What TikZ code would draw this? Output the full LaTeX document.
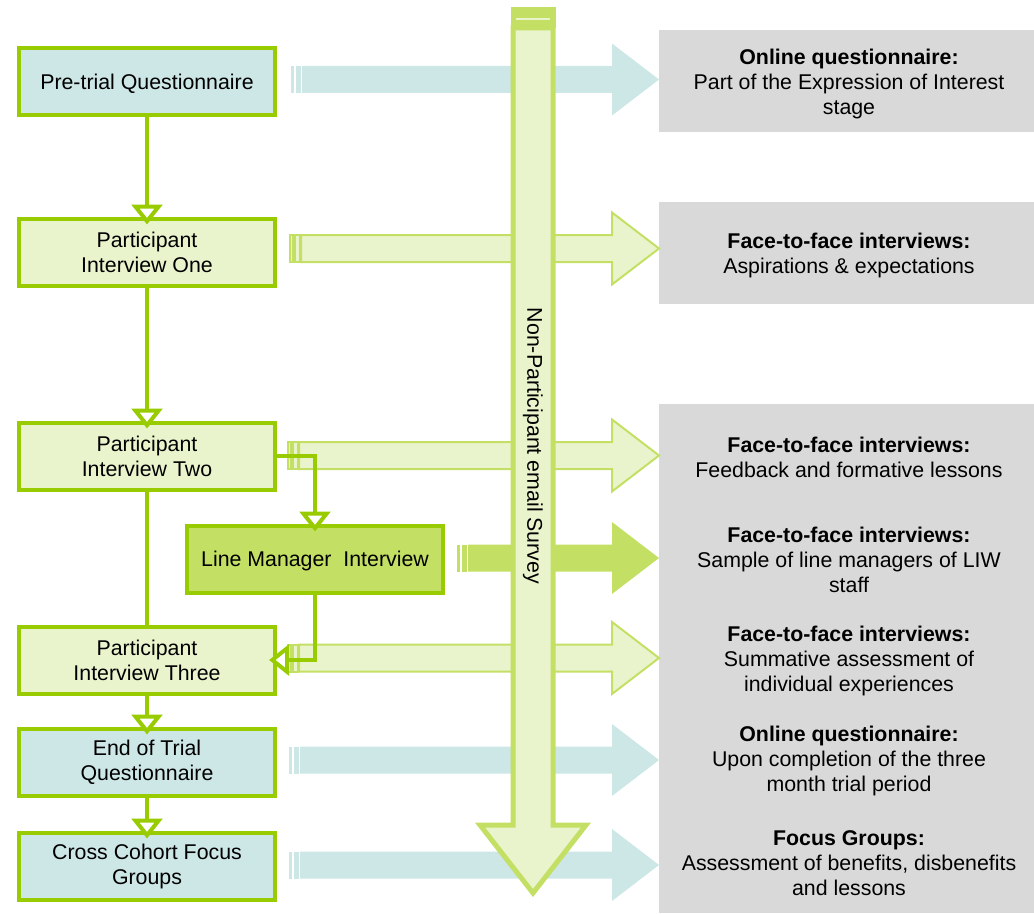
\documentclass[tikz,border=0pt]{standalone}
\usepackage{fontspec}
\setmainfont{Liberation Sans}
\usetikzlibrary{arrows.meta}
\definecolor{lime}{RGB}{153,204,0}
\definecolor{paleteal}{RGB}{205,230,230}
\definecolor{palelime}{RGB}{234,244,204}
\definecolor{midlime}{RGB}{196,224,100}
\definecolor{panelgrey}{RGB}{217,217,217}

% wide band arrow: #1 style, #2 tail x, #3 centre y
\newcommand\band[3]{%
  \path[#1] (#2,#3-13.5) rectangle (#2+3,#3+13.5);
  \path[#1] (#2+4.5,#3-13.5) rectangle (#2+9.5,#3+13.5);
  \path[#1] (#2+11,#3-13.5) -- (612,#3-13.5) -- (612,#3-36) -- (659,#3)
    -- (612,#3+36) -- (612,#3+13.5) -- (#2+11,#3+13.5) -- cycle;}

\begin{document}
\begin{tikzpicture}[x=0.75pt, y=-0.75pt,
  every node/.style={font=\fontsize{16}{18.75}\selectfont, align=center},
  stage/.style={draw=lime, line width=3pt, minimum width=192pt, minimum height=50.25pt, inner sep=0pt},
  link/.style={draw=lime, line width=3pt, -{Triangle[width=23pt,length=15pt,fill=white]}, shorten >=-6pt},
  tealband/.style={fill=paleteal},
  limeband/.style={fill=palelime, draw=midlime, line width=1.5pt},
  solidband/.style={fill=midlime},
  panel/.style={fill=panelgrey, minimum width=281.25pt, inner sep=0pt}]
\useasboundingbox (0,0) rectangle (1034,913);

% grey panels on the right
\node[panel, minimum height=76.5pt] (p1) at (846.5,81) {};
\node[panel, minimum height=76.5pt] (p2) at (846.5,253) {};
\node[panel, minimum height=381.75pt] (p3) at (846.5,658.5) {};

% wide arrows towards the panels
\band{tealband}{291}{79.5}
\band{limeband}{290}{248.5}
\band{limeband}{288}{455.5}
\band{solidband}{457}{558}
\band{limeband}{288}{658}
\band{tealband}{289}{760}
\band{tealband}{289}{865}

% stages
\node[stage, fill=paleteal, text depth=0pt] (pre) at (147,81.5) {Pre-trial Questionnaire};
\node[stage, fill=palelime] (one) at (147,252) {Participant\\Interview One};
\node[stage, fill=palelime] (two) at (147,456) {Participant\\Interview Two};
\node[stage, fill=midlime, text depth=0pt] (lm) at (315,559) {Line Manager\ \ Interview};
\node[stage, fill=palelime] (three) at (147,660) {Participant\\Interview Three};
\node[stage, fill=paleteal] (end) at (147,762) {End of Trial\\Questionnaire};
\node[stage, fill=paleteal] (cross) at (147,866) {Cross Cohort Focus\\Groups};

\draw[link] (pre) -- (one);
\draw[link] (one) -- (two);
\draw[lime, line width=3pt] (two) -- (three);
\draw[link] (two.east) -| (lm.north);
\draw[link] (lm.south) |- (three.east);
\draw[link] (three) -- (end);
\draw[link] (end) -- (cross);

% survey arrow running down the middle
\fill[midlime] (511,7) rectangle (556,28);
\draw[palelime, line width=1.2pt] (516,19) -- (550,19);
\draw[fill=palelime, draw=midlime, line width=3.75pt] (513,28) -- (513,825) -- (480,825)
  -- (533,893) -- (586,825) -- (553,825) -- (553,28) -- cycle;
\node[rotate=-90] (survey) at (533,446) {Non-Participant email Survey};

% panel texts
\node (t1) at (849,84) {\textbf{Online questionnaire:}\\Part of the Expression of Interest\\stage};
\node (t2) at (849,255) {\textbf{Face-to-face interviews:}\\Aspirations \& expectations};
\node (t3) at (849,457) {\textbf{Face-to-face interviews:}\\Feedback and formative lessons};
\node (t4) at (849,560) {\textbf{Face-to-face interviews:}\\Sample of line managers of LIW\\staff};
\node (t5) at (849,661) {\textbf{Face-to-face interviews:}\\Summative assessment of\\individual experiences};
\node (t6) at (849,761) {\textbf{Online questionnaire:}\\Upon completion of the three\\month trial period};
\node (t7) at (849,863) {\textbf{Focus Groups:}\\Assessment of benefits, disbenefits\\and lessons};
\end{tikzpicture}
\end{document}
